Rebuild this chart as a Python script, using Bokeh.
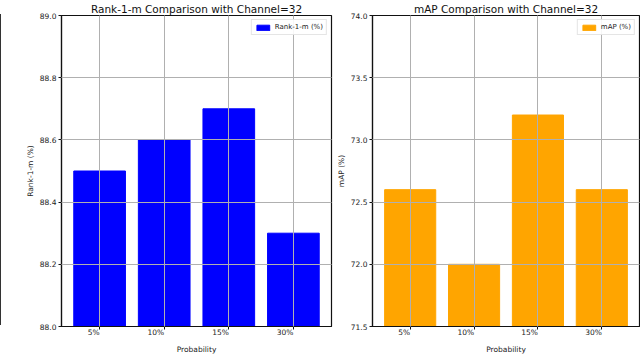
from bokeh.plotting import figure
from bokeh.layouts import row
from bokeh.models import Div, FixedTicker, FactorRange, Range1d, PrintfTickFormatter
from bokeh.embed import file_html
from bokeh.resources import INLINE

probabilities = ["5%", "10%", "15%", "30%"]
rank1m_values = [88.5, 88.6, 88.7, 88.3]
map_values = [72.6, 72.0, 73.2, 72.6]
rank_ticks = [88.0, 88.2, 88.4, 88.6, 88.8, 89.0]
map_ticks = [71.5, 72.0, 72.5, 73.0, 73.5, 74.0]

FONT = "DejaVu Sans"
FRAME_H = 311


def make_panel(title, values, color, ylabel, legend_label, ylim, ticks,
               frame_w, border_left, border_right):
    p = figure(x_range=FactorRange(factors=probabilities, range_padding=0.045),
               y_range=Range1d(*ylim),
               frame_width=frame_w, frame_height=FRAME_H,
               output_backend="svg", toolbar_location=None, title=title,
               min_border_left=border_left, min_border_right=border_right,
               min_border_top=0, min_border_bottom=0)
    p.vbar(x=probabilities, top=values, bottom=ylim[0], width=0.8,
           color=color, legend_label=legend_label)
    p.title.align = "center"
    p.title.text_font = FONT
    p.title.text_font_size = "10.5px"
    p.title.text_font_style = "normal"
    p.title.text_color = "#111111"
    p.title.standoff = 1
    p.title.offset = 0

    p.outline_line_color = "#111111"
    p.outline_line_width = 1.2
    p.outline_line_alpha = 1

    for ax in (p.xaxis[0], p.yaxis[0]):
        ax.axis_line_color = "#111111"
        ax.axis_line_width = 1.2
        ax.major_tick_in = 0
        ax.major_tick_out = 3
        ax.major_tick_line_color = "#111111"
        ax.minor_tick_line_color = None
        ax.major_label_text_font = FONT
        ax.major_label_text_font_size = "7.5px"
        ax.major_label_text_color = "#222222"
        ax.axis_label_text_font = FONT
        ax.axis_label_text_font_size = "7.5px"
        ax.axis_label_text_font_style = "normal"
        ax.axis_label_text_color = "#222222"
    p.xaxis.major_label_standoff = 3
    p.xaxis.axis_label_standoff = 0
    p.yaxis.major_label_standoff = 2
    p.yaxis.axis_label_standoff = 2
    p.xaxis.axis_label = "Probability"
    p.yaxis.axis_label = ylabel
    p.yaxis.ticker = FixedTicker(ticks=ticks)
    p.yaxis.formatter = PrintfTickFormatter(format="%.1f")
    p.xaxis.major_label_orientation = 0

    p.grid.grid_line_color = "#b0b0b0"
    p.grid.grid_line_width = 1
    p.xgrid.level = "guide"
    p.ygrid.level = "guide"
    p.ygrid.ticker = FixedTicker(ticks=ticks)

    lg = p.legend[0]
    lg.location = "top_right"
    lg.label_text_font = FONT
    lg.label_text_font_size = "7px"
    lg.label_text_color = "#222222"
    lg.glyph_width = 16
    lg.glyph_height = 7
    lg.label_height = 7
    lg.padding = 3
    lg.spacing = 0
    lg.margin = 4
    lg.label_standoff = 4
    lg.border_line_color = "#cccccc"
    lg.border_line_width = 1
    lg.background_fill_alpha = 0.9
    return p


edge = Div(text="", width=3, height=FRAME_H, margin=(14, 0, 0, 0),
           styles={"border-left": "1.2px solid #333333"})

p1 = make_panel("Rank-1-m Comparison with Channel=32", rank1m_values, "#0000ff",
                "Rank-1-m (%)", "Rank-1-m (%)", (88.0, 89.0), rank_ticks,
                270, 58, 2)
p2 = make_panel("mAP Comparison with Channel=32", map_values, "#ffa500",
                "mAP (%)", "mAP (%)", (71.5, 74.0), map_ticks,
                267, 37, 1)

layout = row(edge, p1, p2)
open("out.html", "w").write(file_html(layout, INLINE))
